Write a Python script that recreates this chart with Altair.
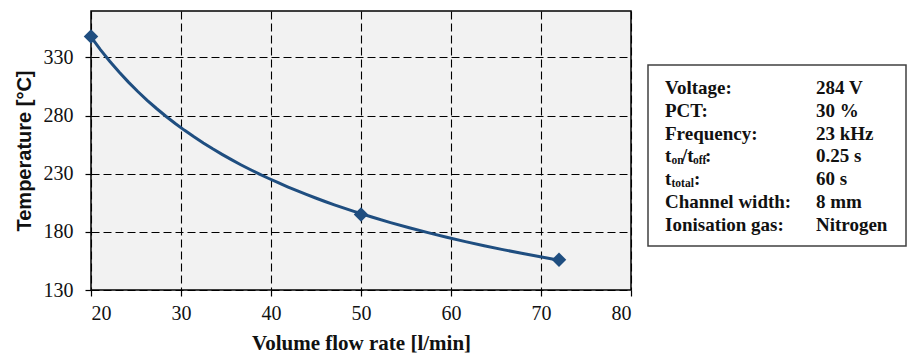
import altair as alt
import pandas as pd

# ---- data ----
flow = [20, 50, 72]            # Volume flow rate [l/min]
temp = [348, 195, 156]         # Temperature [°C]

x_ticks = [20, 30, 40, 50, 60, 70, 80]
y_ticks = [130, 180, 230, 280, 330]

info_labels = ["Voltage:", "PCT:", "Frequency:", "", "", "Channel width:", "Ionisation gas:"]
info_values = ["284 V", "30 %", "23 kHz", "0.25 s", "60 s", "8 mm", "Nitrogen"]

# label rows with subscripts: (text, is_subscript)
ton_parts = [("t", False), ("on", True), ("/t", False), ("off", True), (":", False)]
ttotal_parts = [("t", False), ("total", True), (":", False)]

df = pd.DataFrame({"flow": flow, "temp": temp})
info_df = pd.DataFrame({"label": info_labels, "value": info_values})

BLUE = "#1f4e80"
SERIF = "Liberation Serif"
SANS = "Liberation Sans"

W, H = 540, 279
xs = alt.Scale(domain=[20, 80], nice=False, zero=False)
ys = alt.Scale(domain=[130, 370], nice=False, zero=False)

x_enc = alt.X(
    "flow:Q", scale=xs,
    axis=alt.Axis(values=x_ticks, title="Volume flow rate [l/min]",
                  titleFont=SERIF, titleFontSize=21, titleFontWeight="bold",
                  titleX=W / 2, titleY=53, titleBaseline="middle", titleAlign="center",
                  labelPadding=7),
)
y_enc = alt.Y(
    "temp:Q", scale=ys,
    axis=alt.Axis(values=y_ticks, title="Temperature [°C]",
                  titleFont=SANS, titleFontSize=20, titleFontWeight="bold",
                  titleX=-67, titleY=H / 2, titleAngle=-90, titleAlign="center",
                  titleBaseline="middle", labelPadding=12),
)

trend = (
    alt.Chart(df)
    .transform_regression("flow", "temp", method="pow")
    .mark_line(color=BLUE, strokeWidth=3)
    .encode(x=x_enc, y=y_enc)
)
points = (
    alt.Chart(df)
    .mark_point(shape="diamond", filled=True, size=210, color=BLUE, opacity=1)
    .encode(x=alt.X("flow:Q", scale=xs), y=alt.Y("temp:Q", scale=ys))
)

# ---- info box ----
BOX_L, BOX_R, BOX_T, BOX_B = 557, 815, 54, 235
LAB_X, VAL_X = 574, 725
ROW0, ROW_STEP = 77, 22.8

box = (
    alt.Chart(pd.DataFrame({"k": [0]}))
    .mark_rect(fill="white", stroke="#404040", strokeWidth=1.5)
    .encode(x=alt.value(BOX_L), x2=alt.value(BOX_R), y=alt.value(BOX_T), y2=alt.value(BOX_B))
)

txt_style = dict(font=SERIF, fontSize=19, fontWeight="bold", color="#111111",
                 align="left", baseline="middle")

info_base = (
    alt.Chart(info_df)
    .transform_window(row="row_number()")
    .transform_calculate(ypix=f"{ROW0 - ROW_STEP} + datum.row * {ROW_STEP}")
)
labels = info_base.mark_text(**txt_style).encode(
    x=alt.value(LAB_X), y=alt.Y("ypix:Q", scale=None, axis=None), text="label:N")
values = info_base.mark_text(**txt_style).encode(
    x=alt.value(VAL_X), y=alt.Y("ypix:Q", scale=None, axis=None), text="value:N")


def part_layers(parts, row_idx, xs_px):
    out = []
    yrow = ROW0 + row_idx * ROW_STEP
    for (t, sub), xp in zip(parts, xs_px):
        style = dict(txt_style)
        if sub:
            style["fontSize"] = 11.5
            style["dy"] = 5
        out.append(
            alt.Chart(pd.DataFrame({"t": [t]}))
            .mark_text(**style)
            .encode(x=alt.value(xp), y=alt.value(yrow), text="t:N")
        )
    return out


ton_layers = part_layers(ton_parts, 3, [LAB_X, LAB_X + 6.5, LAB_X + 17, LAB_X + 28, LAB_X + 40])
ttot_layers = part_layers(ttotal_parts, 4, [LAB_X, LAB_X + 6.5, LAB_X + 29])

chart = (
    alt.layer(trend, points, box, labels, values, *ton_layers, *ttot_layers)
    .properties(width=W, height=H,
                autosize=alt.AutoSizeParams(type="none"),
                padding={"left": 83, "top": 3, "right": 276, "bottom": 66},
                background="white")
    .configure_view(stroke="black", strokeWidth=1.5, fill="#f2f2f2")
    .configure_axis(
        grid=True, gridColor="black", gridDash=[8, 4], gridWidth=1.1, gridOpacity=1,
        domain=False, ticks=True, tickSize=6, tickColor="black", tickWidth=1.2,
        labelFont=SERIF, labelFontSize=20, labelColor="#111111", titleColor="#111111",
    )
)

chart.save("out.html", embed_options={"renderer": "svg", "actions": False})
